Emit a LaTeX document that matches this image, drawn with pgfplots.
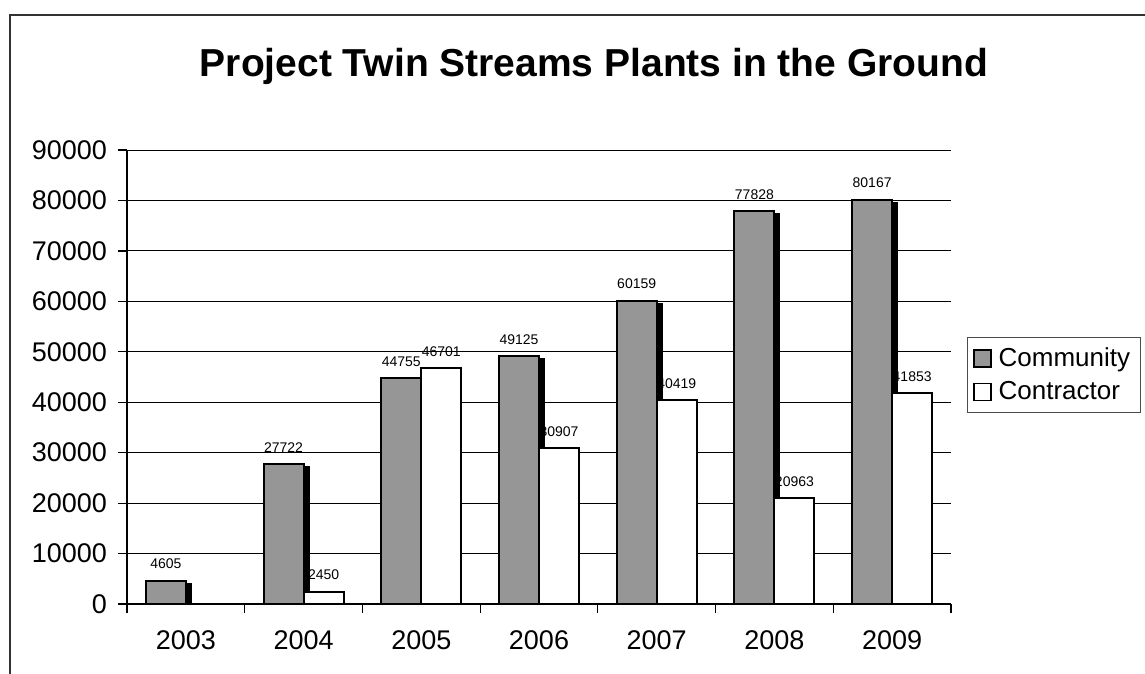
\documentclass[border=0pt]{standalone}
\usepackage{fontspec}
\setmainfont{Liberation Sans}
\usepackage{pgfplots}
\pgfplotsset{compat=1.18}
\definecolor{commgray}{RGB}{150,150,150}
\begin{document}
\begin{tikzpicture}
\useasboundingbox (0pt,0pt) rectangle (572.5pt,-337pt);
\draw[black!80, line width=0.7pt] (5pt,-345pt) -- (5pt,-7.5pt) -- (580pt,-7.5pt);
\node[anchor=base, font=\fontsize{19.5}{23}\selectfont\bfseries] at (297pt,-38.5pt) {Project Twin Streams Plants in the Ground};
\begin{axis}[
  at={(63.5pt,-302pt)}, anchor=south west,
  scale only axis, width=412pt, height=227pt,
  ybar, bar width=0.34,
  xmin=-0.5, xmax=6.5, ymin=0, ymax=90000,
  axis x line=bottom, axis y line=left,
  axis line style={-, line width=0.6pt},
  ytick={0,10000,...,90000},
  scaled y ticks=false,
  xtick={0,...,6},
  xticklabels={2003,2004,2005,2006,2007,2008,2009},
  minor xtick={-0.5,0.5,...,6.5},
  major x tick style={draw=none},
  minor x tick style={black, line width=0.6pt},
  y tick style={black, line width=0.6pt},
  tick align=outside,
  major tick length=4.5pt, minor tick length=4.5pt,
  ymajorgrids, grid style={black, line width=0.5pt},
  tick label style={font=\fontsize{13.5}{16}\selectfont},
  yticklabel style={xshift=-2pt},
  xticklabel style={yshift=-5.5pt},
  /pgf/number format/assume math mode=true,
  /pgf/number format/1000 sep={},
  every node near coord/.append style={font=\fontsize{7}{8}\selectfont, yshift=2pt, black},
  legend style={at={(1.019,0.588)}, anchor=north west, draw=black!70, line width=0.6pt,
    font=\fontsize{13}{15}\selectfont, row sep=2pt, inner sep=3pt, cells={anchor=west}},
]
% contractor labels first, so that the community shadow lies over them
\addplot[forget plot, fill=white, draw=black, line width=1pt, bar shift=0.17, nodes near coords]
  coordinates {(1,2450) (2,46701) (3,30907) (4,40419) (5,20963) (6,41853)};
\addplot[forget plot, fill=commgray, draw=black, line width=1pt, bar shift=-0.17, nodes near coords,
  preaction={fill=black, draw=black, line width=1pt, transform canvas={xshift=2.5pt, yshift=-1.5pt}}]
  coordinates {(0,4605) (1,27722) (2,44755) (3,49125) (4,60159) (5,77828) (6,80167)};
\addplot[forget plot, fill=white, draw=black, line width=1pt, bar shift=0.17]
  coordinates {(1,2450) (2,46701) (3,30907) (4,40419) (5,20963) (6,41853)};
\addlegendimage{legend image code/.code={\draw[fill=commgray, draw=black, line width=0.8pt] (0pt,-4.25pt) rectangle (8.5pt,4.25pt); \path (10pt,0pt);}}
\addlegendentry{Community}
\addlegendimage{legend image code/.code={\draw[fill=white, draw=black, line width=0.8pt] (0pt,-4.25pt) rectangle (8.5pt,4.25pt); \path (10pt,0pt);}}
\addlegendentry{Contractor}
\end{axis}
\end{tikzpicture}
\end{document}
